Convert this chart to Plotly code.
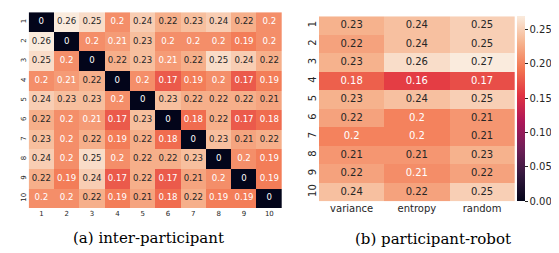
import plotly.graph_objects as go

# ---------------- data ----------------
participants = ["1", "2", "3", "4", "5", "6", "7", "8", "9", "10"]
inter = [
    [0, 0.26, 0.25, 0.2, 0.24, 0.22, 0.23, 0.24, 0.22, 0.2],
    [0.26, 0, 0.2, 0.208, 0.23, 0.2, 0.2, 0.2, 0.19, 0.2],
    [0.25, 0.2, 0, 0.22, 0.23, 0.208, 0.22, 0.25, 0.24, 0.22],
    [0.2, 0.208, 0.22, 0, 0.2, 0.17, 0.19, 0.2, 0.17, 0.19],
    [0.24, 0.23, 0.23, 0.2, 0, 0.23, 0.22, 0.22, 0.22, 0.213],
    [0.22, 0.2, 0.208, 0.17, 0.23, 0, 0.18, 0.22, 0.17, 0.18],
    [0.23, 0.2, 0.22, 0.19, 0.22, 0.18, 0, 0.23, 0.213, 0.22],
    [0.24, 0.2, 0.25, 0.2, 0.22, 0.22, 0.23, 0, 0.2, 0.19],
    [0.22, 0.19, 0.24, 0.17, 0.22, 0.17, 0.213, 0.2, 0, 0.19],
    [0.2, 0.2, 0.22, 0.19, 0.213, 0.18, 0.22, 0.19, 0.19, 0],
]
methods = ["variance", "entropy", "random"]
variance = [0.23, 0.22, 0.23, 0.18, 0.23, 0.22, 0.2, 0.213, 0.22, 0.24]
entropy = [0.24, 0.24, 0.26, 0.16, 0.24, 0.2, 0.2, 0.213, 0.207, 0.22]
random_ = [0.25, 0.25, 0.27, 0.17, 0.25, 0.213, 0.213, 0.23, 0.22, 0.25]
cbar_ticks = [0.0, 0.05, 0.10, 0.15, 0.20, 0.25]

# ---------------- style ----------------
W, H = 559, 253
rocket = [
    [0.0, "#03051A"], [0.143, "#35193E"], [0.286, "#701F57"],
    [0.429, "#AD1759"], [0.571, "#E13342"], [0.714, "#F37651"],
    [0.857, "#F6B48F"], [1.0, "#FAEBDD"],
]
DARK = "#262626"
FONT = "DejaVu Sans"
SERIF = "DejaVu Serif"


def fmt(v):
    return f"{v:.2g}" if v != 0 else "0"


def text_traces(xs, ys, vals, xa, ya, size, thr):
    out = []
    for light, col in ((True, "white"), (False, DARK)):
        tx, ty, tt = [], [], []
        for x, y, v in zip(xs, ys, vals):
            if (v < thr) == light:
                tx.append(x); ty.append(y); tt.append(fmt(v))
        out.append(go.Scatter(x=tx, y=ty, text=tt, mode="text", xaxis=xa, yaxis=ya,
                              textfont=dict(color=col, size=size, family=FONT),
                              hoverinfo="skip", showlegend=False))
    return out


fig = go.Figure()

# left heatmap
zmax_l = max(max(r) for r in inter)
fig.add_trace(go.Heatmap(z=inter, x=participants, y=participants, colorscale=rocket,
                         zmin=0, zmax=zmax_l, showscale=False, xaxis="x", yaxis="y"))
xs, ys, vs = [], [], []
for i, r in enumerate(inter):
    for j, v in enumerate(r):
        xs.append(participants[j]); ys.append(participants[i]); vs.append(v)
for t in text_traces(xs, ys, vs, "x", "y", 8.6, 0.211):
    fig.add_trace(t)

# right heatmap
pr = [list(a) for a in zip(variance, entropy, random_)]
zmax_r = max(max(r) for r in pr)
fig.add_trace(go.Heatmap(
    z=pr, x=methods, y=participants, colorscale=rocket, zmin=0, zmax=zmax_r,
    xaxis="x2", yaxis="y2",
    colorbar=dict(thickness=8, x=509 / W, xanchor="left", xpad=0, ypad=0,
                  y=1 - 8 / H, yanchor="top", len=185 / H, lenmode="fraction",
                  outlinewidth=0, tickvals=cbar_ticks, tickformat=".2f",
                  ticks="outside", ticklen=3, tickwidth=1, tickcolor=DARK,
                  tickfont=dict(size=10, family=FONT, color=DARK))))
xs, ys, vs = [], [], []
for i, r in enumerate(pr):
    for j, v in enumerate(r):
        xs.append(methods[j]); ys.append(participants[i]); vs.append(v)
for t in text_traces(xs, ys, vs, "x2", "y2", 10, 0.211):
    fig.add_trace(t)

ax_common = dict(showgrid=False, zeroline=False, showline=False, ticks="", type="category")
fig.update_layout(
    width=W, height=H, margin=dict(l=0, r=0, t=0, b=0),
    paper_bgcolor="white", plot_bgcolor="white", showlegend=False,
    xaxis=dict(domain=[20.7 / W, 274 / W], anchor="y",
               tickfont=dict(size=7, family=FONT, color=DARK), **ax_common),
    yaxis=dict(domain=[1 - 200 / H, 1 - 4.2 / H], anchor="x", autorange="reversed",
               tickangle=-90, tickfont=dict(size=7, family=FONT, color=DARK), **ax_common),
    xaxis2=dict(domain=[311 / W, 506.7 / W], anchor="y2",
                tickfont=dict(size=10, family=FONT, color=DARK), **ax_common),
    yaxis2=dict(domain=[1 - 193.3 / H, 1 - 8.3 / H], anchor="x2", autorange="reversed",
                tickangle=-90, tickfont=dict(size=10, family=FONT, color=DARK), **ax_common),
    annotations=[
        dict(text="(a) inter-participant", x=140 / W, y=1 - 230 / H, xref="paper", yref="paper",
             showarrow=False, xanchor="center", yanchor="middle",
             font=dict(family=SERIF, size=15, color="black")),
        dict(text="(b) participant-robot", x=425 / W, y=1 - 231 / H, xref="paper", yref="paper",
             showarrow=False, xanchor="center", yanchor="middle",
             font=dict(family=SERIF, size=15, color="black")),
    ],
)

fig.write_html("out.html")
